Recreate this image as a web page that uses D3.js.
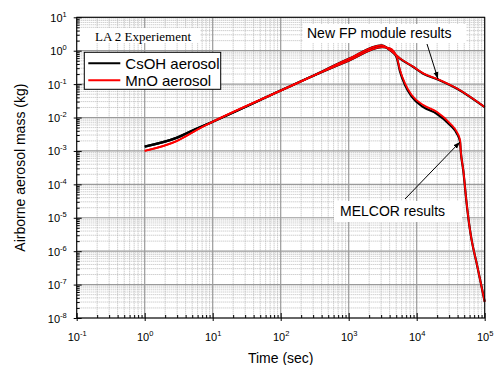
<!DOCTYPE html>
<html>
<head>
<meta charset="utf-8">
<script src="https://cdn.jsdelivr.net/npm/d3@7"></script>
<style>
  body { margin: 0; background: #fff; }
  text { font-family: "Liberation Sans", Arial, sans-serif; }
</style>
</head>
<body>
<div id="chart"></div>
<script>
// data
const xTickExp = [-1, 0, 1, 2, 3, 4, 5];
const yTickExp = [-8, -7, -6, -5, -4, -3, -2, -1, 0, 1];

// New FP module results
const timeFP = [1, 3, 6, 10, 100, 240, 1000, 3050, 4040, 5680, 8920, 12500, 20800, 38700, 100000];
const csohFP = [1.35e-3, 2.5e-3, 4.8e-3, 7.5e-3, 0.064, 0.144, 0.57, 1.45, 1.04, 0.58, 0.325, 0.205, 0.136, 0.074, 0.0204];
const mnoFP  = [1.0e-3, 2.0e-3, 4.4e-3, 7.5e-3, 0.064, 0.144, 0.57, 1.45, 1.05, 0.59, 0.33, 0.21, 0.139, 0.075, 0.0206];

// MELCOR results
const timeMel = [1, 3, 6, 10, 100, 240, 1000, 3100, 4040, 5080, 5680, 6730, 8440, 12500, 19700, 30900, 38700, 43400, 44400, 48400, 54300, 60800, 64400, 76300, 100000];
const csohMel = [1.35e-3, 2.5e-3, 4.8e-3, 7.5e-3, 0.064, 0.144, 0.5, 1.28, 1.15, 0.62, 0.24, 0.094, 0.042, 0.0205, 0.013, 0.006, 0.0034, 0.0019, 1.0e-3, 2.6e-4, 2.6e-5, 4.3e-6, 2.1e-6, 4.3e-7, 3.05e-8];
const mnoMel  = [1.0e-3, 2.0e-3, 4.4e-3, 7.5e-3, 0.064, 0.144, 0.5, 1.28, 1.18, 0.66, 0.264, 0.106, 0.047, 0.0237, 0.0149, 0.0067, 0.00376, 0.00212, 1.06e-3, 2.7e-4, 2.7e-5, 4.3e-6, 2.1e-6, 4.3e-7, 3.05e-8];

const margin = { top: 17.3, right: 9.3, bottom: 47, left: 76.7 };
const width = 494 - margin.left - margin.right;
const height = 365 - margin.top - margin.bottom;

const svg = d3.select('#chart')
  .append('svg')
  .attr('width', 494)
  .attr('height', 365)
  .append('g')
  .attr('transform', `translate(${margin.left},${margin.top})`);

const x = d3.scaleLog().domain([1e-1, 1e5]).range([0, width]);
const y = d3.scaleLog().domain([1e-8, 1e1]).range([height, 0]);

// minor / major values
const xMajor = xTickExp.map(e => Math.pow(10, e));
const yMajor = yTickExp.map(e => Math.pow(10, e));
const minorOf = majors => {
  const out = [];
  majors.slice(0, -1).forEach(m => { for (let k = 2; k <= 9; k++) out.push(m * k); });
  return out;
};
const xMinor = minorOf(xMajor);
const yMinor = minorOf(yMajor);

// grid (minor dotted, major solid)
const grid = svg.append('g');
grid.selectAll('.gx-minor').data(xMinor).enter().append('line')
  .attr('x1', d => x(d)).attr('x2', d => x(d)).attr('y1', 0).attr('y2', height)
  .attr('stroke', '#aaa').attr('stroke-width', 0.8).attr('stroke-dasharray', '1,1');
grid.selectAll('.gy-minor').data(yMinor).enter().append('line')
  .attr('y1', d => y(d)).attr('y2', d => y(d)).attr('x1', 0).attr('x2', width)
  .attr('stroke', '#aaa').attr('stroke-width', 0.8).attr('stroke-dasharray', '1,1');
grid.selectAll('.gx-major').data(xMajor).enter().append('line')
  .attr('x1', d => x(d)).attr('x2', d => x(d)).attr('y1', 0).attr('y2', height)
  .attr('stroke', '#9a9a9a').attr('stroke-width', 1.2);
grid.selectAll('.gy-major').data(yMajor).enter().append('line')
  .attr('y1', d => y(d)).attr('y2', d => y(d)).attr('x1', 0).attr('x2', width)
  .attr('stroke', '#9a9a9a').attr('stroke-width', 1.2);

// white boxes behind annotation text
svg.append('rect').attr('x', 80 - margin.left).attr('y', 28 - margin.top)
  .attr('width', 120).attr('height', 15).attr('fill', '#fff');
svg.append('rect').attr('x', 303 - margin.left).attr('y', 24 - margin.top)
  .attr('width', 163).attr('height', 19).attr('fill', '#fff');
svg.append('rect').attr('x', 334 - margin.left).attr('y', 201 - margin.top)
  .attr('width', 128).attr('height', 21).attr('fill', '#fff');

// curves
const line = d3.line()
  .x(d => x(d[0]))
  .y(d => y(d[1]))
  .curve(d3.curveMonotoneX);

const series = [
  { t: timeMel, v: csohMel, color: '#000', w: 2.2 },
  { t: timeFP, v: csohFP, color: '#000', w: 2.2 },
  { t: timeMel, v: mnoMel, color: '#ff0000', w: 1.8 },
  { t: timeFP, v: mnoFP, color: '#ff0000', w: 1.8 }
];
series.forEach(s => {
  svg.append('path')
    .datum(s.t.map((t, i) => [t, s.v[i]]))
    .attr('fill', 'none')
    .attr('stroke', s.color)
    .attr('stroke-width', s.w)
    .attr('stroke-linejoin', 'round')
    .attr('d', line);
});

// frame
svg.append('rect').attr('width', width).attr('height', height)
  .attr('fill', 'none').attr('stroke', '#000').attr('stroke-width', 1);

// axes: minor ticks inward, major ticks crossing
const styleAxis = g => { g.select('.domain').remove(); g.selectAll('line').attr('stroke', '#000'); };
svg.append('g').attr('transform', `translate(0,${height})`)
  .call(d3.axisBottom(x).tickValues(xMinor).tickSizeInner(-3).tickSizeOuter(0).tickFormat(''))
  .call(styleAxis);
const xAxis = svg.append('g').attr('transform', `translate(0,${height})`)
  .call(d3.axisBottom(x).tickValues(xMajor).tickSizeInner(3).tickSizeOuter(0).tickFormat(''))
  .call(styleAxis);
svg.append('g').attr('transform', `translate(0,${height})`)
  .call(d3.axisBottom(x).tickValues(xMajor).tickSizeInner(-5).tickSizeOuter(0).tickFormat(''))
  .call(styleAxis);
svg.append('g')
  .call(d3.axisLeft(y).tickValues(yMinor).tickSizeInner(-3).tickSizeOuter(0).tickFormat(''))
  .call(styleAxis);
const yAxis = svg.append('g')
  .call(d3.axisLeft(y).tickValues(yMajor).tickSizeInner(3).tickSizeOuter(0).tickFormat(''))
  .call(styleAxis);
svg.append('g')
  .call(d3.axisLeft(y).tickValues(yMajor).tickSizeInner(-5).tickSizeOuter(0).tickFormat(''))
  .call(styleAxis);

// tick labels 10^n
xAxis.selectAll('.tick').each(function(d) {
  const t = d3.select(this).append('text')
    .attr('x', 0).attr('y', 23).attr('fill', '#000')
    .attr('text-anchor', 'middle').style('font-size', '11px');
  t.append('tspan').text('10');
  t.append('tspan').attr('dy', -5).style('font-size', '7.5px').text(Math.round(Math.log10(d)));
});
yAxis.selectAll('.tick').each(function(d) {
  const t = d3.select(this).append('text')
    .attr('x', -10).attr('y', 4).attr('fill', '#000')
    .attr('text-anchor', 'end').style('font-size', '11px');
  t.append('tspan').text('10');
  t.append('tspan').attr('dy', -5).style('font-size', '7.5px').text(Math.round(Math.log10(d)));
});

// axis titles
svg.append('text').attr('x', width / 2).attr('y', 346)
  .attr('text-anchor', 'middle').style('font-size', '14px').text('Time (sec)');
svg.append('text').attr('transform', `translate(${25 - margin.left},${height / 2}) rotate(-90)`)
  .attr('text-anchor', 'middle').style('font-size', '14px').text('Airborne aerosol mass (kg)');

// experiment label
svg.append('text').attr('x', 95 - margin.left).attr('y', 41 - margin.top)
  .style('font-family', '"Liberation Serif", "Times New Roman", serif')
  .style('font-size', '13px').text('LA 2 Experiement');

// legend
const legend = svg.append('g').attr('transform', `translate(${84.3 - margin.left},${52.3 - margin.top})`);
legend.append('rect').attr('width', 136.4).attr('height', 37)
  .attr('fill', '#fff').attr('stroke', '#000').attr('stroke-width', 1);
const legendItems = [['CsOH aerosol', '#000'], ['MnO aerosol', '#ff0000']];
legendItems.forEach((it, i) => {
  legend.append('line').attr('x1', 4).attr('x2', 36)
    .attr('y1', 11 + i * 17).attr('y2', 11 + i * 17)
    .attr('stroke', it[1]).attr('stroke-width', 2);
  legend.append('text').attr('x', 41).attr('y', 16.5 + i * 17)
    .style('font-size', '15px').text(it[0]);
});

// annotations
svg.append('defs').append('marker')
  .attr('id', 'arrow').attr('viewBox', '0 0 10 10')
  .attr('refX', 10).attr('refY', 5)
  .attr('markerWidth', 7).attr('markerHeight', 7)
  .attr('orient', 'auto')
  .append('path').attr('d', 'M0,1.5L10,5L0,8.5Z').attr('fill', '#000');

svg.append('text').attr('x', 307 - margin.left).attr('y', 38 - margin.top)
  .style('font-size', '14px').text('New FP module results');
svg.append('line')
  .attr('x1', 427 - margin.left).attr('y1', 44 - margin.top)
  .attr('x2', 438 - margin.left).attr('y2', 79 - margin.top)
  .attr('stroke', '#000').attr('stroke-width', 1).attr('marker-end', 'url(#arrow)');

svg.append('text').attr('x', 340 - margin.left).attr('y', 216 - margin.top)
  .style('font-size', '14px').text('MELCOR results');
svg.append('line')
  .attr('x1', 405 - margin.left).attr('y1', 199 - margin.top)
  .attr('x2', 460 - margin.left).attr('y2', 142 - margin.top)
  .attr('stroke', '#000').attr('stroke-width', 1).attr('marker-end', 'url(#arrow)');
</script>
</body>
</html>
